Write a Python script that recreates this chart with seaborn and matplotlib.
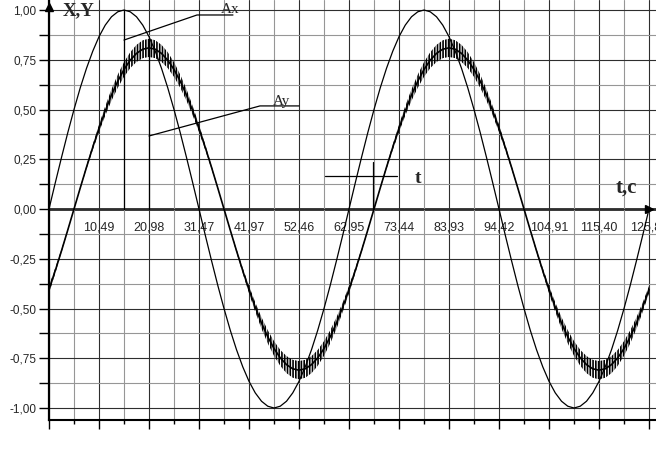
import numpy as np
import pandas as pd
import matplotlib
matplotlib.use("Agg")
import matplotlib.pyplot as plt
import seaborn as sns
from matplotlib.ticker import MultipleLocator

# sample spacing (1/8 of a labelled division)
T_MAJOR = 10.4912
T_STEP = T_MAJOR / 8

# X(t) - thin sine, amplitude 1
x_vals = [0.0, 0.131, 0.259, 0.383, 0.500, 0.609, 0.707, 0.793, 0.866, 0.924, 0.966, 0.991, 1.0,
          0.991, 0.966, 0.924, 0.866, 0.793, 0.707, 0.609, 0.500, 0.383, 0.259, 0.131, 0.0,
          -0.131, -0.259, -0.383, -0.500, -0.609, -0.707, -0.793, -0.866, -0.924, -0.966, -0.991, -1.0,
          -0.991, -0.966, -0.924, -0.866, -0.793, -0.707, -0.609, -0.500, -0.383, -0.259, -0.131, 0.0,
          0.131, 0.259, 0.383, 0.500, 0.609, 0.707, 0.793, 0.866, 0.924, 0.966, 0.991, 1.0,
          0.991, 0.966, 0.924, 0.866, 0.793, 0.707, 0.609, 0.500, 0.383, 0.259, 0.131, 0.0,
          -0.131, -0.259, -0.383, -0.500, -0.609, -0.707, -0.793, -0.866, -0.924, -0.966, -0.991, -1.0,
          -0.991, -0.966, -0.924, -0.866, -0.793, -0.707, -0.609, -0.500, -0.383, -0.259, -0.131, 0.0]

# Y(t) - middle of the rippled curve
y_mid = [-0.405, -0.310, -0.210, -0.106,
         0.0, 0.106, 0.210, 0.310, 0.405, 0.493, 0.573, 0.642, 0.701, 0.748, 0.782, 0.803, 0.810,
         0.803, 0.782, 0.748, 0.701, 0.642, 0.573, 0.493, 0.405, 0.310, 0.210, 0.106, 0.0,
         -0.106, -0.210, -0.310, -0.405, -0.493, -0.573, -0.642, -0.701, -0.748, -0.782, -0.803, -0.810,
         -0.803, -0.782, -0.748, -0.701, -0.642, -0.573, -0.493, -0.405, -0.310, -0.210, -0.106, 0.0,
         0.106, 0.210, 0.310, 0.405, 0.493, 0.573, 0.642, 0.701, 0.748, 0.782, 0.803, 0.810,
         0.803, 0.782, 0.748, 0.701, 0.642, 0.573, 0.493, 0.405, 0.310, 0.210, 0.106, 0.0,
         -0.106, -0.210, -0.310, -0.405, -0.493, -0.573, -0.642, -0.701, -0.748, -0.782, -0.803, -0.810,
         -0.803, -0.782, -0.748, -0.701, -0.642, -0.573, -0.493, -0.405]

# half height of the fast ripple on Y
y_ripple = [0.019, 0.014, 0.009, 0.004,
            0.0, 0.004, 0.009, 0.014, 0.019, 0.024, 0.029, 0.033, 0.037, 0.040, 0.043, 0.045, 0.046,
            0.045, 0.043, 0.040, 0.037, 0.033, 0.029, 0.024, 0.019, 0.014, 0.009, 0.004, 0.0,
            0.004, 0.009, 0.014, 0.019, 0.024, 0.029, 0.033, 0.037, 0.040, 0.043, 0.045, 0.046,
            0.045, 0.043, 0.040, 0.037, 0.033, 0.029, 0.024, 0.019, 0.014, 0.009, 0.004, 0.0,
            0.004, 0.009, 0.014, 0.019, 0.024, 0.029, 0.033, 0.037, 0.040, 0.043, 0.045, 0.046,
            0.045, 0.043, 0.040, 0.037, 0.033, 0.029, 0.024, 0.019, 0.014, 0.009, 0.004, 0.0,
            0.004, 0.009, 0.014, 0.019, 0.024, 0.029, 0.033, 0.037, 0.040, 0.043, 0.045, 0.046,
            0.045, 0.043, 0.040, 0.037, 0.033, 0.029, 0.024, 0.019]

t_labels = ["10,49", "20,98", "31,47", "41,97", "52,46", "62,95",
            "73,44", "83,93", "94,42", "104,91", "115,40", "125,89"]
y_ticks = [-1.0, -0.75, -0.5, -0.25, 0.0, 0.25, 0.5, 0.75, 1.0]
y_labels = ["-1,00", "-0,75", "-0,50", "-0,25", "0,00", "0,25", "0,50", "0,75", "1,00"]

df = pd.DataFrame({"t": np.arange(len(x_vals)) * T_STEP,
                   "X": x_vals, "Y": y_mid, "dY": y_ripple})

sns.set_style("white")
plt.rcParams["font.family"] = ["Liberation Sans", "DejaVu Sans"]
plt.rcParams["hatch.linewidth"] = 1.2
plt.rcParams["hatch.color"] = "black"

fig = plt.figure(figsize=(6.56, 4.5), dpi=100)
ax = fig.add_axes([49 / 656, 30 / 450, 607 / 656, 420 / 450])

ax.set_xlim(0, 127.36)
ax.set_ylim(-1.0603, 1.0503)

# grid
ax.xaxis.set_major_locator(MultipleLocator(T_MAJOR))
ax.xaxis.set_minor_locator(MultipleLocator(T_MAJOR / 2))
ax.set_yticks(y_ticks, labels=y_labels)
ax.yaxis.set_minor_locator(MultipleLocator(0.125))
ax.grid(which="major", color="#2e2e2e", lw=0.8)
ax.grid(which="minor", color="#969696", lw=0.8)
ax.set_axisbelow(True)

# curves
sns.lineplot(data=df, x="t", y="X", color="black", lw=0.9,
             estimator=None, sort=False, ax=ax)
ax.fill_between(df["t"], df["Y"] - df["dY"], df["Y"] + df["dY"],
                facecolor="none", edgecolor="black", linewidth=0, hatch="||||||")
sns.lineplot(data=df, x="t", y="Y", color="black", lw=1.2,
             estimator=None, sort=False, ax=ax)
ax.set_xlabel("")
ax.set_ylabel("")

# spines and ticks
for s in ["top", "right"]:
    ax.spines[s].set_visible(False)
ax.spines["left"].set_linewidth(1.6)
ax.spines["bottom"].set_linewidth(1.5)
ax.spines["left"].set_color("black")
ax.spines["bottom"].set_color("black")
ax.tick_params(axis="y", which="both", length=7.2, width=1, color="black",
               labelsize=8.5, pad=2, left=True)
ax.tick_params(axis="x", which="major", length=6.5, width=1, color="black",
               labelbottom=False, bottom=True)
ax.tick_params(axis="x", which="minor", length=3, width=1, color="black", bottom=True)

# time axis on the zero line
sec = ax.secondary_xaxis(0, transform=ax.transData)
sec.set_alignment("bottom")
sec.set_xticks(T_MAJOR * np.arange(1, len(t_labels) + 1), labels=t_labels)
sec.tick_params(length=0, pad=9, labelsize=9)
sec.spines["bottom"].set_linewidth(1.8)
sec.spines["bottom"].set_color("black")

# axis arrows
ax.plot([0.989], [0], marker=">", ms=6, color="black",
        transform=ax.get_yaxis_transform(), clip_on=False)
ax.plot([0], [1.015], marker="^", ms=6, color="black", clip_on=False)

serif = ["Liberation Serif", "DejaVu Serif"]
ax.text(2.94, 0.975, "X,Y", fontsize=13.5, fontweight="bold", family=serif, va="baseline")
ax.text(118.8, 0.08, "t,c", fontsize=15, fontweight="bold", family=serif, va="baseline")

# markers Ax, Ay, t
t_xpk = df["t"][df["X"].idxmax()]
t_ypk = df["t"][df["Y"].idxmax()]
ax.plot([t_xpk, t_xpk], [0, df["X"].max()], color="black", lw=0.9)
ax.plot([15.73, 31.05, 38.6], [0.849, 0.975, 0.975], color="black", lw=0.9)
ax.text(38.1, 0.985, "Ax", fontsize=11, family=serif, ha="center", va="baseline")

ax.plot([t_ypk, t_ypk], [0, (df["Y"] + df["dY"]).max()], color="black", lw=0.9)
ax.plot([20.98, 44.27, 52.45], [0.367, 0.518, 0.518], color="black", lw=0.9)
ax.text(48.7, 0.525, "Ay", fontsize=11, family=serif, ha="center", va="baseline")

ax.plot([57.9, 73.0], [0.166, 0.166], color="black", lw=0.9)
ax.plot([67.98, 67.98], [0, 0.236], color="black", lw=0.9)
ax.text(77.4, 0.131, "t", fontsize=14, fontweight="bold", family=serif, ha="center", va="baseline")

fig.savefig("out.png", dpi=100)
